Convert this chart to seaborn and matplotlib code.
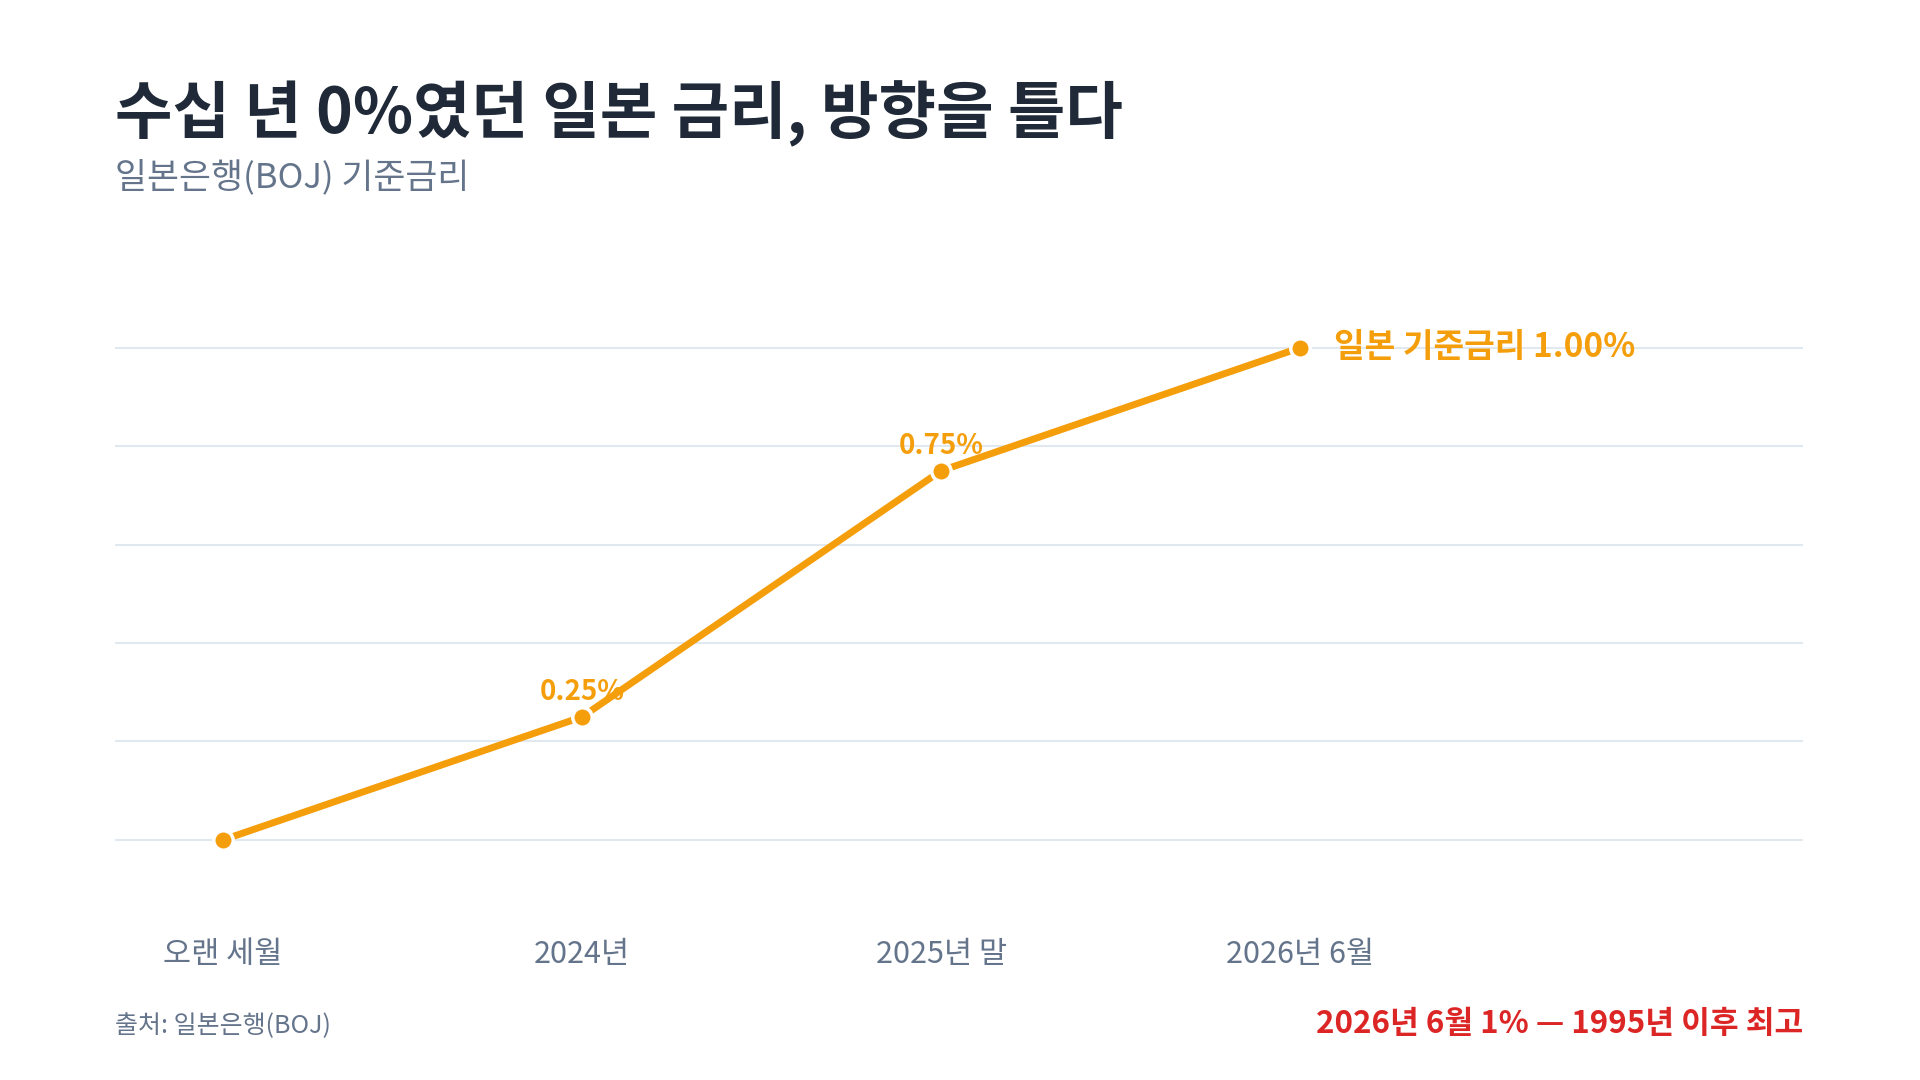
import matplotlib
matplotlib.use("Agg")
import matplotlib.pyplot as plt
import seaborn as sns
import pandas as pd

categories = ["오랜 세월", "2024년", "2025년 말", "2026년 6월"]
rates = [0.0, 0.25, 0.75, 1.00]
point_labels = ["", "0.25%", "0.75%", ""]

sns.set_theme(style="white")
plt.rcParams['font.family'] = ['Noto Sans CJK KR', 'DejaVu Sans']

ORANGE = "#f59e0b"
df = pd.DataFrame({"x": range(len(categories)), "y": rates})

fig = plt.figure(figsize=(19.2, 10.8), dpi=100)
ax = fig.add_axes([0.06, 0.1767, 0.879, 0.5697])
sns.lineplot(data=df, x="x", y="y", ax=ax, color=ORANGE, linewidth=5,
             marker="o", markersize=14, markeredgecolor="white", markeredgewidth=2.5)
ax.set_xlim(-0.3, 4.4)
ax.set_ylim(-0.1, 1.15)
ax.set_yticks([0, 0.2, 0.4, 0.6, 0.8, 1.0])
ax.yaxis.grid(True, color="#e2e8f0", linewidth=1.5)
ax.set_yticklabels([])
ax.tick_params(axis="y", length=0)
ax.set_xticks(range(len(categories)))
ax.set_xticklabels(categories, fontsize=22, color="#64748b")
ax.tick_params(axis="x", length=0, pad=36)
for s in ax.spines.values():
    s.set_visible(False)
ax.set_xlabel(""); ax.set_ylabel("")

for i, (v, t) in enumerate(zip(rates, point_labels)):
    if t:
        ax.annotate(t, (i, v), xytext=(0, 8), textcoords="offset points",
                    ha="center", va="bottom", fontsize=20, color=ORANGE, fontweight="bold")
ax.annotate("일본 기준금리 1.00%", (3, 1.0), xytext=(24, 0), textcoords="offset points",
            ha="left", va="center", fontsize=24, color=ORANGE, fontweight="bold")

fig.text(0.06, 0.895, "수십 년 0%였던 일본 금리, 방향을 틀다", fontsize=45, fontweight="bold",
         color="#1f2937", va="center")
fig.text(0.06, 0.836, "일본은행(BOJ) 기준금리", fontsize=25, color="#64748b", va="center")
fig.text(0.06, 0.05, "출처: 일본은행(BOJ)", fontsize=18, color="#64748b", va="center")
fig.text(0.939, 0.052, "2026년 6월 1% — 1995년 이후 최고", fontsize=22.5, fontweight="bold",
         color="#dc2626", va="center", ha="right")

fig.savefig("out.png", dpi=100, facecolor="white")
